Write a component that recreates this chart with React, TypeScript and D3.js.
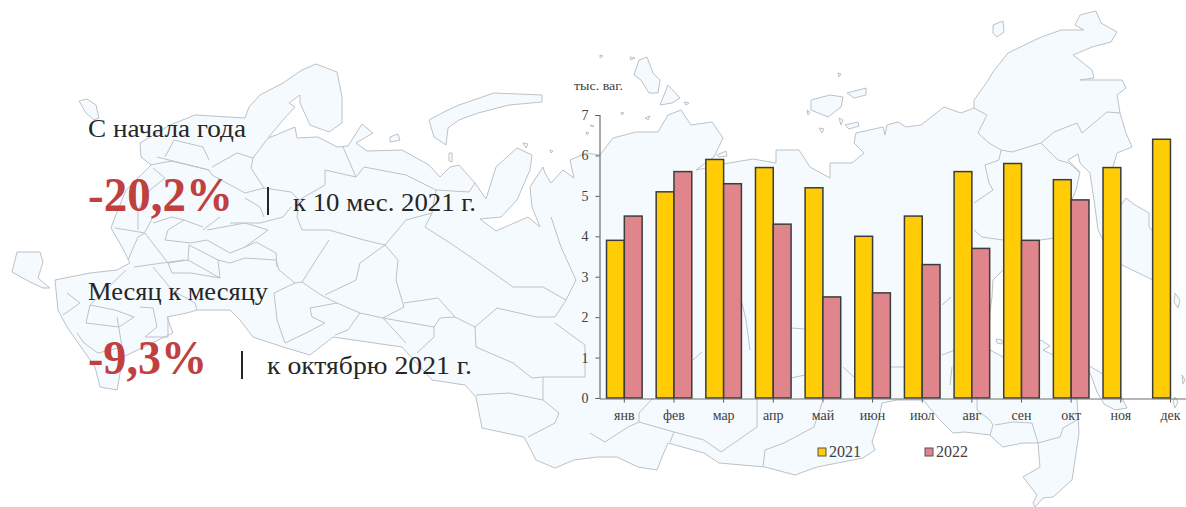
import React, { useRef, useEffect } from 'react';
import * as d3 from 'd3';

type Pt = [number, number];

const months = ['янв', 'фев', 'мар', 'апр', 'май', 'июн', 'июл', 'авг', 'сен', 'окт', 'ноя', 'дек'];
const values2021 = [3.9, 5.1, 5.9, 5.7, 5.2, 4.0, 4.5, 5.6, 5.8, 5.4, 5.7, 6.4];
const values2022 = [4.5, 5.6, 5.3, 4.3, 2.5, 2.6, 3.3, 3.7, 3.9, 4.9];
const seriesNames = ['2021', '2022'];
const seriesColors = ['#FFCC05', '#E1858C'];
const yTicks = [0, 1, 2, 3, 4, 5, 6, 7];
const yUnit = 'тыс. ваг.';

// background map
const mainland: Pt[] = [
  [195, 115], [245, 118], [249, 107], [260, 95], [283, 83], [302, 70], [316, 64], [337, 72], [342, 97], [342, 123],
  [329, 132], [310, 125], [300, 103], [300, 95], [289, 103], [295, 107], [283, 120], [268, 138], [276, 135], [295, 127],
  [297, 138], [318, 137], [337, 147], [348, 146], [362, 124], [373, 133], [356, 143], [367, 151], [402, 150], [429, 165],
  [440, 177], [450, 167], [459, 165], [475, 183], [486, 199], [496, 167], [517, 148], [532, 155], [530, 170], [517, 200],
  [501, 217], [480, 219], [496, 231], [528, 217], [540, 227], [532, 207], [530, 187], [543, 167], [545, 173], [551, 183],
  [563, 170], [574, 178], [570, 160], [586, 153], [600, 155], [613, 138], [636, 132], [658, 132], [668, 115], [681, 110],
  [691, 125], [712, 122], [723, 138], [714, 157], [696, 170], [729, 163], [753, 159], [776, 163], [776, 150], [799, 150],
  [810, 167], [830, 178], [830, 163], [852, 163], [864, 153], [854, 143], [856, 133], [883, 127], [885, 135], [887, 125],
  [898, 122], [906, 127], [921, 125], [944, 107], [961, 113], [974, 108], [974, 100], [987, 82], [993, 72], [1008, 53],
  [1039, 38], [1061, 30], [1084, 30], [1075, 25], [1080, 15], [1096, 11], [1101, 23], [1117, 32], [1111, 42], [1092, 47],
  [1073, 55], [1092, 70], [1094, 78], [1080, 80], [1122, 80], [1126, 88], [1117, 95], [1120, 113], [1126, 133], [1132, 147],
  [1117, 153], [1113, 167], [1121, 205], [1126, 198], [1135, 205], [1149, 213], [1149, 227], [1165, 245], [1153, 280],
  [1122, 265], [1103, 240], [1098, 230], [1095, 207], [1090, 173], [1080, 163], [1078, 154], [1068, 160], [1080, 172],
  [1076, 190], [1056, 238], [1040, 240], [1003, 270], [993, 280], [992, 297], [986, 340], [990, 350], [1003, 357],
  [1041, 340], [1050, 346], [1043, 350], [1053, 355], [1070, 370], [1077, 400], [1079, 433], [1072, 480], [1053, 497],
  [1043, 498], [1035, 507], [1033, 503], [1037, 495], [1023, 477], [1040, 467], [1038, 443], [1023, 443], [1003, 447],
  [997, 442], [990, 435], [965, 432], [953, 433], [940, 420], [923, 400], [897, 400], [882, 403], [878, 423], [872, 442],
  [875, 450], [863, 458], [817, 467], [795, 475], [765, 467], [719, 463], [704, 453], [668, 443], [662, 457], [657, 470],
  [638, 467], [617, 457], [597, 457], [574, 460], [555, 468], [536, 460], [524, 437], [482, 428], [476, 397], [465, 385],
  [432, 380], [402, 347], [333, 337], [310, 355], [283, 347], [253, 337], [240, 320], [230, 310], [197, 310], [187, 313],
  [167, 317], [173, 333], [123, 357], [117, 390], [100, 387], [95, 367], [67, 327], [58, 310], [55, 280], [80, 275],
  [90, 273], [117, 270], [130, 263], [122, 247], [111, 228], [115, 217], [126, 190], [151, 165], [141, 157], [140, 143],
  [170, 125],
];

const islands: Pt[][] = [
  [[79, 101], [87, 99], [96, 105], [99, 118], [94, 120], [86, 113]],
  [[17, 252], [40, 252], [43, 262], [38, 278], [50, 288], [43, 288], [30, 282], [12, 272]],
  [[429, 120], [444, 112], [459, 105], [494, 93], [542, 95], [542, 102], [509, 105], [478, 113], [459, 120], [448, 128], [446, 145], [434, 137]],
  [[390, 137], [398, 134], [400, 140], [390, 142]],
  [[634, 75], [639, 60], [647, 57], [653, 73], [660, 80], [658, 93], [649, 93], [641, 80]],
  [[660, 105], [668, 85], [680, 98], [672, 103]],
  [[811, 100], [830, 95], [843, 97], [841, 107], [828, 117], [811, 110]],
  [[847, 93], [866, 88], [866, 95], [854, 98]],
  [[845, 125], [858, 122], [859, 126], [849, 129]],
  [[839, 118], [843, 120], [841, 125]],
  [[993, 25], [1003, 21], [1004, 32], [997, 37], [993, 33]],
  [[717, 155], [726, 151], [727, 156], [719, 157]],
  [[1086, 364], [1103, 374], [1122, 398], [1127, 408], [1115, 410], [1104, 404], [1097, 392], [1092, 378]],
  [[1175, 293], [1180, 300], [1178, 308], [1174, 302]],
  [[1182, 375], [1185, 380], [1183, 384]],
  [[1175, 397], [1178, 402], [1175, 408], [1173, 402]],
  [[996, 339], [1002, 340], [1002, 344], [997, 343]],
  [[449, 153], [452, 153], [452, 162], [449, 161]],
  [[523, 143], [528, 144], [526, 148]],
  [[550, 150], [553, 151], [551, 153]],
  [[600, 55], [603, 56], [600, 58]],
  [[630, 57], [635, 58], [631, 60]],
  [[621, 112], [624, 113], [622, 115]],
  [[645, 118], [650, 116], [648, 120]],
  [[684, 102], [689, 103], [686, 105]],
  [[838, 73], [841, 74], [839, 77]],
  [[819, 128], [824, 129], [822, 133]],
  [[807, 110], [810, 112], [808, 115]],
  [[590, 125], [594, 126], [592, 127]],
  [[586, 132], [589, 133], [587, 135]],
];

const borders: Pt[][] = [
  [[268, 138], [253, 158], [251, 168], [264, 188], [291, 192], [299, 200], [297, 217], [302, 230], [329, 230], [364, 240], [385, 245], [406, 220], [432, 213], [425, 227], [450, 243], [475, 260], [513, 287], [543, 287], [566, 300], [576, 280], [561, 247], [551, 217]],
  [[343, 147], [356, 177], [325, 170], [325, 185], [299, 200]],
  [[356, 177], [364, 167], [406, 175], [436, 190], [469, 192], [475, 183]],
  [[436, 190], [432, 213]],
  [[385, 245], [398, 260], [396, 280], [404, 307], [383, 318], [360, 313], [337, 303], [321, 295], [302, 282], [318, 257], [329, 240]],
  [[385, 245], [360, 263], [356, 280], [325, 295]],
  [[404, 303], [438, 298], [455, 317], [475, 327], [497, 308], [536, 317], [555, 317], [566, 300]],
  [[475, 327], [476, 347], [513, 363], [532, 378], [543, 377], [585, 377], [585, 345], [555, 323]],
  [[543, 377], [543, 400], [559, 413], [555, 423], [528, 437]],
  [[476, 395], [509, 393], [543, 400]],
  [[383, 318], [406, 343]],
  [[383, 318], [434, 327], [440, 318], [455, 317]],
  [[434, 327], [434, 337], [417, 353]],
  [[360, 313], [348, 330], [335, 335]],
  [[337, 303], [310, 308], [312, 317], [325, 323], [306, 333], [285, 343], [277, 320], [274, 293], [295, 283], [302, 282]],
  [[157, 157], [209, 170], [212, 175]],
  [[165, 157], [174, 140], [203, 147], [209, 160]],
  [[153, 168], [165, 178], [150, 190], [138, 210], [138, 230]],
  [[207, 230], [245, 223], [268, 230], [245, 247], [230, 253], [207, 240], [191, 243], [165, 240], [168, 230], [184, 220], [203, 227]],
  [[115, 228], [145, 233], [138, 237], [128, 260]],
  [[145, 233], [168, 263], [188, 260], [189, 245], [218, 260], [230, 263]],
  [[188, 260], [220, 278], [218, 260]],
  [[168, 263], [172, 273], [191, 273], [220, 278]],
  [[230, 263], [245, 258], [276, 260], [279, 270], [295, 283]],
  [[245, 247], [256, 242], [276, 253], [277, 267]],
  [[153, 217], [145, 232]],
  [[184, 220], [172, 217], [153, 223]],
  [[220, 217], [203, 230]],
  [[230, 223], [260, 223], [283, 217], [291, 207]],
  [[212, 167], [237, 153], [253, 158]],
  [[212, 175], [245, 193], [264, 188]],
  [[245, 198], [260, 207], [264, 217]],
  [[150, 165], [172, 161], [209, 170]],
  [[67, 293], [80, 303], [63, 315]],
  [[90, 305], [86, 323], [119, 327], [134, 317], [115, 310], [90, 305]],
  [[140, 307], [153, 308], [157, 327], [145, 337]],
  [[117, 317], [122, 347], [98, 353], [84, 343], [77, 333]],
  [[168, 317], [168, 337], [145, 337]],
  [[90, 305], [126, 270]],
  [[153, 267], [172, 290], [195, 303], [197, 310]],
  [[134, 267], [184, 260]],
  [[974, 108], [987, 115], [978, 133], [989, 143], [1001, 150], [1012, 152], [1041, 143], [1054, 132], [1077, 123], [1082, 133], [1107, 112], [1120, 113]],
  [[1041, 143], [1058, 160], [1069, 163], [1079, 172]],
  [[1001, 150], [999, 160], [985, 165], [989, 183], [993, 190], [974, 203]],
  [[974, 230], [982, 237], [1003, 240]],
  [[990, 435], [993, 425], [990, 420], [977, 410], [977, 398]],
  [[995, 425], [1013, 422], [1032, 423], [1038, 443], [1060, 437], [1063, 428], [1077, 420]],
  [[590, 433], [605, 442], [628, 427], [639, 422], [674, 432], [670, 442]],
  [[674, 432], [704, 440], [721, 452], [757, 427], [757, 398]],
  [[639, 413], [653, 398]],
  [[639, 413], [639, 422]],
  [[765, 450], [784, 443], [814, 427], [822, 403]],
  [[765, 450], [763, 467]],
  [[742, 303], [746, 320], [750, 350]],
  [[693, 360], [702, 352]],
  [[791, 328], [805, 329]],
  [[791, 378], [805, 375]],
  [[843, 367], [854, 377]],
  [[890, 367], [904, 367]],
  [[942, 305], [951, 297]],
  [[942, 355], [955, 350]],
  [[952, 367], [950, 385]],
];

const App = () => {
  const svgRef = useRef<SVGSVGElement>(null);

  useEffect(() => {
    const svg = d3.select(svgRef.current);
    svg.selectAll('*').remove();

    const textFont = '"Liberation Serif", serif';

    // map
    const line = d3.line<Pt>();
    const map = svg.append('g').attr('fill', 'none').attr('stroke', '#BCC2C8').attr('stroke-width', 1);
    map.append('path').attr('d', line(mainland.concat([mainland[0]]))).attr('fill', '#F4FAFD');
    map.selectAll('path.island').data(islands).enter().append('path')
      .attr('class', 'island')
      .attr('fill', '#F4FAFD')
      .attr('d', (d) => line(d.concat([d[0]])));
    map.selectAll('path.border').data(borders).enter().append('path')
      .attr('class', 'border')
      .attr('d', (d) => line(d));

    // chart
    const x = d3.scaleBand().domain(months).range([599.5, 1195.3]);
    const y = d3.scaleLinear().domain([0, 7]).range([398, 115]);
    const barW = 17.8;
    const center = (m: string) => x(m)! + x.bandwidth() / 2;

    const bars = svg.append('g').attr('stroke', '#3C3C3C').attr('stroke-width', 1.5);
    [values2021, values2022].forEach((vals, s) => {
      bars.append('g').selectAll('rect').data(vals).enter().append('rect')
        .attr('x', (_, i) => center(months[i]) + (s === 0 ? -barW : 0))
        .attr('y', (d) => y(d))
        .attr('width', barW)
        .attr('height', (d) => y(0) - y(d))
        .attr('fill', seriesColors[s]);
    });

    const xAxis = svg.append('g').attr('transform', 'translate(0,398.5)')
      .call(d3.axisBottom(x).tickSize(4).tickSizeOuter(0).tickPadding(8));
    const yAxis = svg.append('g').attr('transform', 'translate(599.5,0)')
      .call(d3.axisLeft(y).tickValues(yTicks).tickSize(4).tickPadding(7).tickFormat(d3.format('d')));
    [xAxis, yAxis].forEach((a) => {
      a.select('.domain').attr('stroke', '#6E6E6E').attr('stroke-width', 1.2);
      a.selectAll('.tick line').attr('stroke', '#5A5A5A');
      a.selectAll('text').attr('font-family', textFont).attr('fill', '#404040');
    });
    xAxis.selectAll('text').attr('font-size', 14);
    yAxis.selectAll('text').attr('font-size', 14);

    svg.append('text').attr('x', 574).attr('y', 90)
      .attr('font-family', textFont).attr('font-size', 11.5).attr('fill', '#404040')
      .attr('textLength', 49).attr('lengthAdjust', 'spacingAndGlyphs')
      .text(yUnit);

    // legend
    const legend = svg.append('g');
    [818, 925].forEach((lx, s) => {
      legend.append('rect').attr('x', lx).attr('y', 448).attr('width', 8).attr('height', 8)
        .attr('fill', seriesColors[s]).attr('stroke', '#555').attr('stroke-width', 1);
      legend.append('text').attr('x', lx + 11).attr('y', 457)
        .attr('font-family', textFont).attr('font-size', 16).attr('fill', '#404040')
        .attr('textLength', 32).attr('lengthAdjust', 'spacingAndGlyphs')
        .text(seriesNames[s]);
    });

    // text block
    const label = (tx: number, ty: number, len: number, size: number, str: string, color = '#262626', weight = 'normal') => {
      svg.append('text').attr('x', tx).attr('y', ty)
        .attr('font-family', textFont).attr('font-size', size).attr('font-weight', weight).attr('fill', color)
        .attr('textLength', len).attr('lengthAdjust', 'spacingAndGlyphs')
        .text(str);
    };
    label(88, 137, 158, 26, 'С начала года');
    label(88, 211, 145, 48, '-20,2%', '#C0403F', 'bold');
    label(293, 211, 183, 26, 'к 10 мес. 2021 г.');
    label(88, 300, 180, 26, 'Месяц к месяцу');
    label(88, 374, 119, 48, '-9,3%', '#C0403F', 'bold');
    label(267, 374, 205, 26, 'к октябрю 2021 г.');
    [[268, 187, 215], [242, 351, 379]].forEach(([bx, y0, y1]) => {
      svg.append('line').attr('x1', bx).attr('x2', bx).attr('y1', y0).attr('y2', y1)
        .attr('stroke', '#262626').attr('stroke-width', 2);
    });
  }, []);

  return (
    <svg
      ref={svgRef}
      width={1186}
      height={507}
      style={{ position: 'absolute', left: 0, top: 0, background: '#fff' }}
    />
  );
};

export default App;
